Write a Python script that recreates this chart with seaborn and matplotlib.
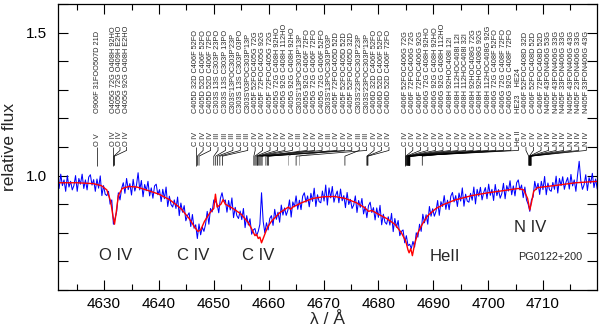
import matplotlib
matplotlib.use("Agg")
import matplotlib.pyplot as plt
import numpy as np
import seaborn as sns
from matplotlib.ticker import MultipleLocator, FixedLocator, FormatStrFormatter

sns.set_theme(style="ticks")
plt.rcParams["font.family"] = ["Liberation Sans", "DejaVu Sans"]

# observed spectrum, one value every 0.3 A from 4621.5 A
obs_start = 4621.5
obs_step = 0.3
obs_flux = [
    0.995, 0.955, 1.005, 0.965, 0.985, 0.945, 1.000, 0.960, 0.980, 0.950,
    0.965, 1.000, 0.945, 0.990, 0.970, 1.005, 0.955, 0.985, 0.950, 0.995,
    1.003, 0.967, 0.986, 0.945, 0.988, 0.956, 0.999, 0.930, 0.965, 0.935,
    0.930, 0.945, 0.900, 0.915, 0.830, 0.850, 0.875, 0.940, 0.915, 0.955,
    0.975, 0.938, 0.990, 0.951, 0.972, 0.932, 0.987, 0.946, 0.966, 1.010,
    0.950, 0.983, 0.926, 0.969, 0.947, 0.980, 0.929, 0.957, 0.921, 0.964,
    0.970, 0.933, 0.951, 0.909, 0.952, 0.919, 0.960, 0.892, 0.928, 0.899,
    0.890, 0.915, 0.885, 0.925, 0.860, 0.904, 0.872, 0.895, 0.842, 0.860,
    0.870, 0.822, 0.864, 0.816, 0.828, 0.780, 0.831, 0.793, 0.820, 0.805,
    0.830, 0.875, 0.830, 0.885, 0.873, 0.915, 0.910, 0.900, 0.870, 0.920,
    0.940, 0.910, 0.915, 0.872, 0.913, 0.880, 0.922, 0.853, 0.889, 0.860,
    0.850, 0.876, 0.846, 0.885, 0.818, 0.860, 0.827, 0.849, 0.795, 0.810,
    0.815, 0.790, 0.805, 0.830, 0.940, 0.840, 0.800, 0.835, 0.810, 0.850,
    0.860, 0.826, 0.882, 0.847, 0.872, 0.837, 0.897, 0.862, 0.887, 0.861,
    0.879, 0.915, 0.855, 0.908, 0.891, 0.929, 0.882, 0.914, 0.881, 0.928,
    0.940, 0.907, 0.929, 0.891, 0.938, 0.910, 0.956, 0.892, 0.933, 0.909,
    0.905, 0.946, 0.911, 0.967, 0.897, 0.957, 0.922, 0.962, 0.907, 0.931,
    0.946, 0.905, 0.953, 0.912, 0.930, 0.888, 0.941, 0.899, 0.917, 0.885,
    0.897, 0.929, 0.871, 0.913, 0.889, 0.920, 0.866, 0.892, 0.853, 0.895,
    0.907, 0.871, 0.888, 0.845, 0.887, 0.854, 0.896, 0.828, 0.865, 0.837,
    0.830, 0.856, 0.827, 0.868, 0.804, 0.850, 0.819, 0.843, 0.790, 0.805,
    0.810, 0.765, 0.790, 0.755, 0.760, 0.745, 0.770, 0.750, 0.800, 0.785,
    0.830, 0.805, 0.865, 0.835, 0.863, 0.830, 0.892, 0.858, 0.884, 0.858,
    0.875, 0.913, 0.861, 0.909, 0.892, 0.930, 0.882, 0.914, 0.881, 0.928,
    0.941, 0.908, 0.930, 0.892, 0.939, 0.911, 0.957, 0.893, 0.935, 0.911,
    0.907, 0.938, 0.914, 0.960, 0.901, 0.952, 0.928, 0.959, 0.915, 0.941,
    0.958, 0.919, 0.970, 0.931, 0.952, 0.913, 0.969, 0.930, 0.951, 0.921,
    0.937, 0.973, 0.919, 0.965, 0.946, 0.982, 0.933, 0.964, 0.929, 0.975,
    0.985, 0.950, 0.967, 0.923, 0.960, 0.915, 0.900, 0.875, 0.915, 0.925,
    0.980, 0.951, 0.973, 0.934, 0.980, 0.951, 0.997, 0.933, 0.974, 0.950,
    0.945, 0.976, 0.952, 0.998, 0.939, 0.990, 0.965, 0.996, 0.952, 0.977,
    0.993, 0.953, 1.004, 0.964, 0.985, 0.945, 1.001, 1.050, 0.982, 0.952,
    0.968, 1.003, 0.948, 0.993, 0.973, 1.008, 0.958, 0.988, 0.953,
]

# model spectrum
model_wl = [4621.5, 4625.0, 4628.0, 4629.5, 4630.5, 4631.2, 4631.6, 4631.9, 4632.2, 4632.6,
            4633.3, 4634.5, 4636.0, 4638.0, 4640.0, 4642.0, 4644.0, 4645.5, 4646.5, 4647.1,
            4647.6, 4648.3, 4649.3, 4650.0, 4650.3, 4650.6, 4651.3, 4651.7, 4652.1, 4653.5,
            4655.0, 4656.3, 4657.0, 4657.5, 4657.8, 4658.1, 4658.4, 4658.7, 4659.2, 4659.8,
            4660.5, 4662.0, 4663.6, 4664.0, 4664.4, 4666.0, 4668.0, 4670.0, 4672.0, 4674.0,
            4676.0, 4677.5, 4678.2, 4678.8, 4680.0, 4681.5, 4683.0, 4684.2, 4685.0, 4685.4,
            4685.6, 4685.9, 4686.2, 4686.6, 4687.2, 4688.0, 4689.0, 4690.5, 4692.0, 4694.0,
            4697.0, 4700.0, 4703.0, 4705.5, 4706.5, 4707.2, 4707.6, 4707.9, 4708.3, 4709.0,
            4712.0, 4716.0, 4720.0]
model_flux = [0.975, 0.975, 0.972, 0.965, 0.950, 0.910, 0.860, 0.830, 0.870, 0.930,
              0.955, 0.962, 0.960, 0.948, 0.935, 0.915, 0.885, 0.850, 0.820, 0.805,
              0.810, 0.840, 0.870, 0.885, 0.935, 0.890, 0.900, 0.916, 0.900, 0.885,
              0.865, 0.835, 0.810, 0.790, 0.795, 0.780, 0.785, 0.765, 0.790, 0.820,
              0.840, 0.870, 0.890, 0.882, 0.890, 0.905, 0.920, 0.926, 0.927, 0.920,
              0.905, 0.888, 0.875, 0.878, 0.865, 0.850, 0.830, 0.800, 0.770, 0.740,
              0.730, 0.745, 0.720, 0.760, 0.800, 0.830, 0.860, 0.885, 0.900, 0.915,
              0.930, 0.940, 0.948, 0.955, 0.950, 0.920, 0.880, 0.905, 0.945, 0.958,
              0.965, 0.975, 0.980]

# line identifications: ion, transition, wavelength
o_ion = ["O V", "O IV", "O IV", "O IV"]
o_desc = ["O906F 31FOO507D 21D", "O405G 72G O408H 92HO",
          "O405G 72G O409H E2HO", "O405G 92G O408H E2HO"]
o_wl = [4628.8, 4631.7, 4631.8, 4631.9]

c1_ion = ["C IV", "C IV", "C IV", "C III", "C III", "C III", "C III", "C III",
          "C IV", "C IV", "C IV", "C IV", "C IV", "C IV", "C III", "C IV", "C IV",
          "C IV", "C III", "C IV", "C IV", "C IV", "C III", "C III", "C IV", "C IV", "C IV"]
c1_desc = ["C405D 32D C406F 52FO", "C405D 52D C406F 52FO", "C405D 52D C406F 72FO",
           "C303S 13S C303P 23PO", "C303S 13S C303P 13PO", "C303S'13POC303P'23P",
           "C303S 13S C303P 03PO", "C303S'03POC303P'13P", "C405F 52FOC405G 72G",
           "C405F 72FOC405G 92G", "C405F 72FOC405G 72G", "C405G 72G C408H 92HO",
           "C405G 92G C408H 112HO", "C405G 92G C408H 92HO", "C303S'13POC303P'13P",
           "C405G 92G C406F 72FO", "C405G 72G C406F 72FO", "C405G 72G C406F 52FO",
           "C303S'13POC303P'03P", "C405F 72FOC405D 52D", "C405F 52FOC405D 52D",
           "C405F 52FOC405D 32D", "C303S'23POC303P'23P", "C303S'23POC303P'13P",
           "C406D 32D C406F 52FO", "C406D 52D C406F 52FO", "C406D 52D C406F 72FO"]
c1_wl = [4646.7, 4647.0, 4647.3, 4650.0, 4650.35, 4650.7, 4651.1, 4651.6,
         4657.3, 4657.5, 4657.7, 4657.9, 4658.0, 4658.2, 4663.6, 4658.4, 4658.6,
         4658.8, 4665.6, 4659.5, 4659.8, 4660.0, 4673.9, 4665.0, 4677.9, 4678.0, 4678.1]
c1_gray = [14, 18]

c2_ion = ["C IV"] * 15 + ["He II"] + ["C IV"] * 3 + ["N IV"] * 6
c2_desc = ["C406F 52FOC406G 72G", "C406F 72FOC406G 72G", "C406F 72FOC406G 92G",
           "C406G 72G C408H 92HO", "C406G 92G C408H 92HO", "C406G 92G C408H 112HO",
           "C408H 92HOC408I 12I", "C408H 112HOC408I 12I", "C408H 112HOC408I 32I",
           "C408H 92HOC408G 72G", "C408H 92HOC408G 92G", "C408H 112HOC408G 92G",
           "C406G 72G C408F 52FO", "C406G 72G C408F 72FO", "C406G 92G C408F 72FO",
           "HE23    HE24", "C406F 52FOC408D 32D", "C406F 52FOC408D 52D",
           "C406F 72FOC408D 52D", "N405F 43FON406G 53G", "N405F 43FON406G 33G",
           "N405F 33FON406G 33G", "N405F 43FON406G 43G", "N405F 23FON406G 33G",
           "N405F 33FON406G 43G"]
c2_wl = [4684.9, 4685.0, 4685.1, 4685.2, 4685.3, 4685.35, 4685.4, 4685.45, 4685.5,
         4685.55, 4688.0, 4685.6, 4685.65, 4685.7, 4685.75, 4685.7, 4707.4, 4707.5,
         4707.55, 4707.6, 4707.65, 4707.7, 4707.75, 4707.8, 4707.85]

feature_text = ["O IV", "C IV", "C IV", "HeII", "N IV"]
feature_wl = [4632.1, 4646.2, 4658.1, 4692.2, 4707.7]
feature_flux = [0.72, 0.72, 0.72, 0.716, 0.82]
star_name = "PG0122+200"

fig = plt.figure(figsize=(6, 3.31), dpi=100)
ax = fig.add_axes([58 / 600, 1 - 290 / 331, 539 / 600, 286 / 331])

obs_wl = obs_start + obs_step * np.arange(len(obs_flux))
sns.lineplot(x=obs_wl, y=obs_flux, ax=ax, color="#0000ff", linewidth=0.75,
             estimator=None, sort=False)
sns.lineplot(x=model_wl, y=model_flux, ax=ax, color="#ff0000", linewidth=1.0,
             estimator=None, sort=False)

# line id marks
y_text, y_stub, y_knee, y_bot, y_desc = 1.104, 1.088, 1.068, 1.035, 1.22


def draw_ids(ions, descs, wls, xs, gray=()):
    for i, (ion, desc, wl, lx) in enumerate(zip(ions, descs, wls, xs)):
        col = "#8c8c8c" if i in gray else "black"
        ax.plot([lx, lx, wl, wl], [y_text - 0.004, y_stub, y_knee, y_bot],
                color=col, lw=0.5, solid_capstyle="butt")
        ax.text(lx, y_text, ion, rotation=90, ha="center", va="bottom", fontsize=5.3)
        ax.text(lx, y_desc, desc, rotation=90, ha="center", va="bottom", fontsize=5.3)


draw_ids(o_ion, o_desc, o_wl, [4628.8, 4631.7, 4632.9, 4634.1])
draw_ids(c1_ion, c1_desc, c1_wl, 4646.7 + 1.355 * np.arange(len(c1_ion)), c1_gray)
draw_ids(c2_ion, c2_desc, c2_wl, 4684.9 + 1.375 * np.arange(len(c2_ion)))

for t, x, y in zip(feature_text, feature_wl, feature_flux):
    ax.text(x, y, t, ha="center", va="center", fontsize=12)
ax.text(4711.3, 0.714, star_name, ha="center", va="center", fontsize=7.8)

ax.set_xlim(4621.6, 4719.85)
ax.set_ylim(0.6, 1.6)
ax.xaxis.set_major_locator(MultipleLocator(10))
ax.xaxis.set_minor_locator(MultipleLocator(5))
ax.yaxis.set_major_locator(FixedLocator([1.0, 1.5]))
ax.yaxis.set_minor_locator(MultipleLocator(0.1))
ax.yaxis.set_major_formatter(FormatStrFormatter("%.1f"))
ax.tick_params(which="both", direction="in", top=True, right=True, width=0.8,
               colors="black", labelsize=11)
ax.tick_params(axis="x", which="major", length=7, pad=5)
ax.tick_params(axis="x", which="minor", length=4)
ax.tick_params(axis="y", which="both", length=7, pad=8)
for s in ax.spines.values():
    s.set_linewidth(0.9)
    s.set_color("black")
ax.set_xlabel("λ / Å", fontsize=12.5, labelpad=1)
ax.set_ylabel("relative flux", fontsize=12.5, labelpad=6)

fig.savefig("out.png", dpi=100)
